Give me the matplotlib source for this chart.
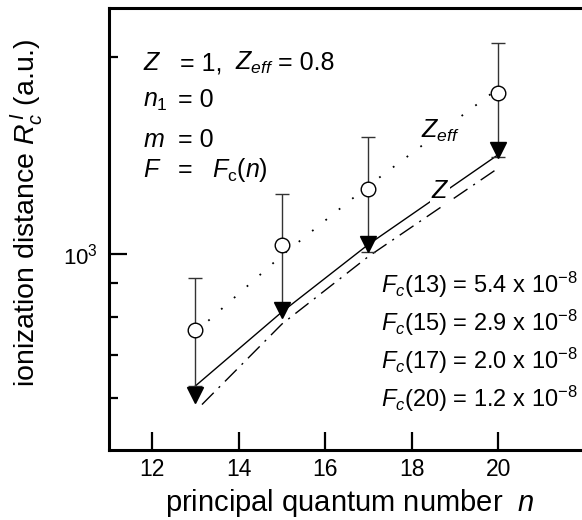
import matplotlib
matplotlib.use("Agg")
import matplotlib.pyplot as plt
from matplotlib.ticker import FixedLocator, NullFormatter, FixedFormatter

plt.rcParams['font.family'] = ['Liberation Sans', 'DejaVu Sans']
plt.rcParams['mathtext.fontset'] = 'custom'
plt.rcParams['mathtext.rm'] = 'Liberation Sans'
plt.rcParams['mathtext.it'] = 'Liberation Sans:italic'
plt.rcParams['mathtext.bf'] = 'Liberation Sans:bold'

# ---- data ----
n_vals = [13, 15, 17, 20]
r_zeff = [764, 1031, 1257, 1765]          # open circles
r_upper = [917, 1236, 1512, 2104]         # upper error caps
r_lower = [627, 840, 1007, 1409]          # lower end of error bars
r_z = [608, 819, 1033, 1440]              # filled triangles
line_z = [627, 814, 1033, 1418]           # solid line (Z)
line_zeff = [758, 994, 1271, 1791]        # dotted line (Z_eff)
n_dashdot = [13.15, 15, 17, 20]
line_dashdot = [587, 780, 990, 1352]      # dash-dot line
x_ticks = [12, 14, 16, 18, 20]
fc_labels = ["13", "15", "17", "20"]
fc_values = ["5.4", "2.9", "2.0", "1.2"]

W, H = 582, 520
fig = plt.figure(figsize=(W/100, H/100), dpi=100)
ax = fig.add_axes([109/W, 1-450/H, 1-109/W, (450-8)/H])
ax.set_yscale('log')
ax.set_xlim(11, 21.94)
ax.set_ylim(500, 2380)

# lines
ax.plot(n_vals, line_z, '-', color='black', lw=1.0, zorder=2)
ax.plot(n_vals, line_zeff, color='black', lw=1.3, dashes=(1.0, 8.5), zorder=2)
ax.plot(n_dashdot, line_dashdot, color='black', lw=1.0, dashes=(12, 5, 1.5, 5), zorder=2)

# error bars
yerr_lo = [c - l for c, l in zip(r_zeff, r_lower)]
yerr_hi = [u - c for c, u in zip(r_zeff, r_upper)]
ax.errorbar(n_vals, r_zeff, yerr=[yerr_lo, yerr_hi], fmt='none', ecolor='#333333',
            elinewidth=1.0, capsize=5.2, capthick=1.0, zorder=3)
ax.plot(n_vals, r_zeff, 'o', ms=10.5, mfc='white', mec='black', mew=1.0, zorder=4)
ax.plot(n_vals, r_z, 'v', ms=11, mfc='black', mec='black', mew=1.0, zorder=4)

# spines & ticks
for s in ['left', 'top', 'bottom']:
    ax.spines[s].set_linewidth(2.2)
ax.spines['right'].set_visible(False)
ax.xaxis.set_major_locator(FixedLocator(x_ticks))
ax.tick_params(axis='x', which='major', direction='in', length=13, width=1.6,
               labelsize=16.5, pad=6, top=False)
ax.tick_params(axis='x', which='minor', bottom=False, top=False)
ax.yaxis.set_major_locator(FixedLocator([1000]))
ax.yaxis.set_major_formatter(FixedFormatter([r'10$^{\mathregular{3}}$']))
ax.yaxis.set_minor_locator(FixedLocator([600, 700, 800, 900, 2000]))
ax.yaxis.set_minor_formatter(NullFormatter())
ax.tick_params(axis='y', which='major', direction='in', length=13, width=1.6,
               labelsize=16, pad=8, right=False)
ax.tick_params(axis='y', which='minor', direction='in', length=6.5, width=1.6, right=False)

# labels
fig.text(350/W, 1-511/H, r'principal quantum number  $n$', ha='center', va='baseline', fontsize=21)
fig.text(27/W, 1-213/H, r'ionization distance $R_c^{\,I}$ (a.u.)', ha='center', va='center',
         rotation=90, fontsize=20.5)

def ftxt(x, y, s, **kw):
    fig.text(x/W, 1-y/H, s, va='baseline', ha='left', fontsize=kw.pop('fontsize', 18), **kw)

# top-left block
ftxt(143, 70, r'$Z$')
ftxt(180, 70, '= 1,')
ftxt(235, 70, r'$Z_{eff}$')
ftxt(278, 70, '= 0.8')
ftxt(143, 107, r'$n_{\mathregular{1}}$')
ftxt(178, 107, '= 0')
ftxt(143, 147, r'$m$')
ftxt(178, 147, '= 0')
ftxt(143, 177, r'$F$')
ftxt(178, 177, '=')
ftxt(212, 177, r'$F_{\mathregular{c}}(n)$')

# right block
for i, (lab, val) in enumerate(zip(fc_labels, fc_values)):
    ftxt(381, 293 + i*38, r'$F_c$' + '(' + lab + ') = ' + val + r' x 10$^{\mathregular{-8}}$',
         fontsize=17)

# line labels with white background
ax.text(440/W, 1-191/H, r'$Z$', transform=fig.transFigure, ha='center', va='center',
        fontsize=18, bbox=dict(facecolor='white', edgecolor='none', pad=0.5), zorder=5)
ax.text(421/W, 1-138/H, r'$Z_{eff}$', transform=fig.transFigure, ha='left', va='baseline',
        fontsize=18, bbox=dict(facecolor='white', edgecolor='none', pad=0.5), zorder=5)

fig.savefig('out.png', dpi=100)
